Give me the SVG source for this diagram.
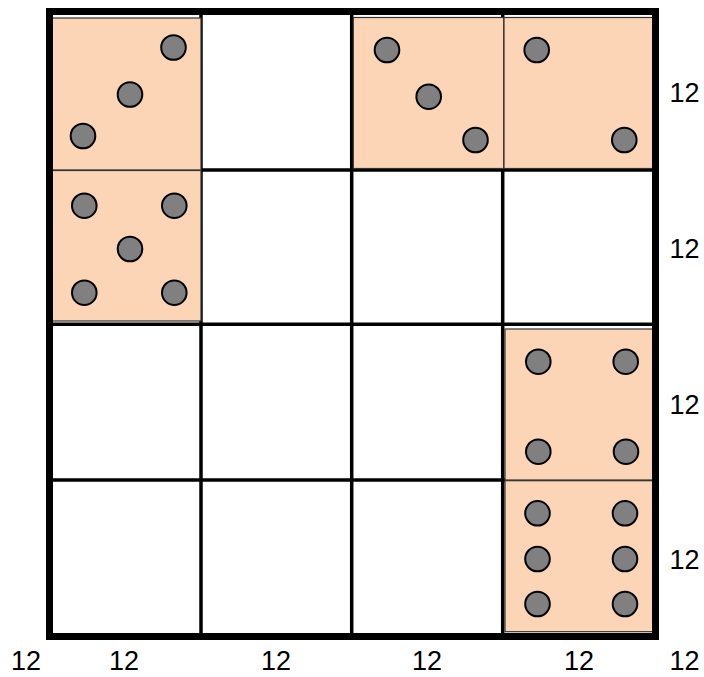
<svg xmlns="http://www.w3.org/2000/svg" width="704" height="677" viewBox="0 0 704 677">
<style>
.grid{stroke:#000;stroke-width:3.5;fill:none}
.frame{stroke:#000;stroke-width:7;fill:none}
.die{fill:#FBD5B5;stroke:#333;stroke-width:1.2}
.pip{fill:#808080;stroke:#000;stroke-width:2}
.lbl{font-family:"Liberation Sans",Arial,sans-serif;font-size:27px;fill:#000;text-anchor:middle}
</style>
<rect width="704" height="677" fill="#fff"/>
<g id="grid">
<line class="grid" x1="201" y1="11" x2="201" y2="637"/>
<line class="grid" x1="351.7" y1="11" x2="351.7" y2="637"/>
<line class="grid" x1="502.7" y1="11" x2="502.7" y2="637"/>
<line class="grid" x1="49" y1="170" x2="656" y2="170"/>
<line class="grid" x1="49" y1="324.3" x2="656" y2="324.3"/>
<line class="grid" x1="49" y1="480" x2="656" y2="480"/>
</g>
<g id="die-r0c0">
<rect class="die" x="51.5" y="18" width="149.5" height="152"/>
<circle class="pip" cx="173.5" cy="47.5" r="12.3"/>
<circle class="pip" cx="130" cy="94.5" r="12.3"/>
<circle class="pip" cx="83" cy="136" r="12.3"/>
</g>
<g id="die-r1c0">
<rect class="die" x="51.5" y="170.5" width="149.5" height="150.5"/>
<circle class="pip" cx="84.3" cy="205.7" r="12.3"/>
<circle class="pip" cx="174.3" cy="205.7" r="12.3"/>
<circle class="pip" cx="130" cy="249" r="12.3"/>
<circle class="pip" cx="84.3" cy="292.7" r="12.3"/>
<circle class="pip" cx="174.3" cy="292.7" r="12.3"/>
</g>
<g id="die-r0c2">
<rect class="die" x="353.3" y="17.5" width="150.5" height="151"/>
<circle class="pip" cx="387" cy="50" r="12.3"/>
<circle class="pip" cx="428.7" cy="96.7" r="12.3"/>
<circle class="pip" cx="475.5" cy="140" r="12.3"/>
</g>
<g id="die-r0c3">
<rect class="die" x="504" y="17.5" width="151" height="151"/>
<circle class="pip" cx="536.7" cy="50" r="12.3"/>
<circle class="pip" cx="624.3" cy="140" r="12.3"/>
</g>
<g id="die-r2c3">
<rect class="die" x="505" y="329" width="150.5" height="151"/>
<circle class="pip" cx="538.3" cy="361.7" r="12.3"/>
<circle class="pip" cx="625.7" cy="361.7" r="12.3"/>
<circle class="pip" cx="538.3" cy="451.7" r="12.3"/>
<circle class="pip" cx="626" cy="451.7" r="12.3"/>
</g>
<g id="die-r3c3">
<rect class="die" x="505" y="480.7" width="150.5" height="151"/>
<circle class="pip" cx="537.5" cy="513.3" r="12.3"/>
<circle class="pip" cx="625" cy="513.3" r="12.3"/>
<circle class="pip" cx="537.5" cy="559" r="12.3"/>
<circle class="pip" cx="625" cy="559" r="12.3"/>
<circle class="pip" cx="537.5" cy="604" r="12.3"/>
<circle class="pip" cx="625" cy="604" r="12.3"/>
</g>
<rect id="frame" class="frame" x="49.5" y="11.5" width="606" height="625"/>
<g id="labels">
<text class="lbl" x="684.5" y="102">12</text>
<text class="lbl" x="684.5" y="258">12</text>
<text class="lbl" x="684.5" y="414">12</text>
<text class="lbl" x="684.5" y="569">12</text>
<text class="lbl" x="26" y="670">12</text>
<text class="lbl" x="124" y="670">12</text>
<text class="lbl" x="276" y="670">12</text>
<text class="lbl" x="427" y="670">12</text>
<text class="lbl" x="579" y="670">12</text>
<text class="lbl" x="684.5" y="670">12</text>
</g>
</svg>
